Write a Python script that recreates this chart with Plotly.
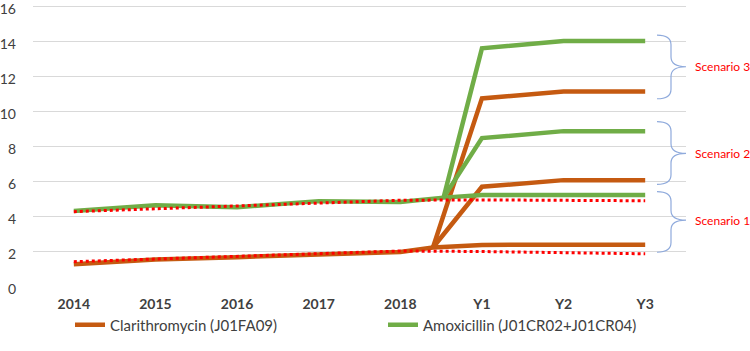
import plotly.graph_objects as go

# ---------------- data ----------------
years = ["2014", "2015", "2016", "2017", "2018", "Y1", "Y2", "Y3"]
hist_pos = [0, 1, 2, 3, 4]
proj_pos = [5, 6, 7]

clari_hist = [1.25, 1.52, 1.65, 1.80, 1.95]
clari_branch_pos = 4.4
clari_branch = 2.2
clari_s1 = [2.35, 2.36, 2.36]
clari_s2 = [5.67, 6.05, 6.05]
clari_s3 = [10.72, 11.12, 11.12]

amox_hist = [4.28, 4.62, 4.50, 4.85, 4.80]
amox_branch_pos = 4.53
amox_branch = 5.05
amox_s1 = [5.20, 5.20, 5.20]
amox_s2 = [8.45, 8.85, 8.85]
amox_s3 = [13.58, 14.00, 14.00]

trend_clari = [1.39, 1.55, 1.70, 1.85, 2.00, 1.97, 1.90, 1.84]
trend_amox = [4.25, 4.42, 4.58, 4.75, 4.90, 4.92, 4.90, 4.87]

y_ticks = [0, 2, 4, 6, 8, 10, 12, 14, 16]

scenario_labels = ["Scenario 3", "Scenario 2", "Scenario 1"]
# brace extents (top, bottom, tip) in y units
brace_spans = [(14.34, 10.70, 12.53), (9.39, 5.81, 7.58), (5.39, 1.93, 3.77)]

ORANGE = "#C55A11"
GREEN = "#70AD47"
RED = "#FF0000"
BLUE = "#8FAADC"
FONT = "Lato"

fig = go.Figure()

def proj(branch_pos, branch_val, vals):
    return [branch_pos] + proj_pos, [branch_val] + vals

# scenario lines (drawn first)
for vals in (clari_s3, clari_s2):
    x, y = proj(clari_branch_pos, clari_branch, vals)
    fig.add_trace(go.Scatter(x=x, y=y, mode="lines", line=dict(color=ORANGE, width=4.5),
                             showlegend=False, hoverinfo="skip"))
for vals in (amox_s3, amox_s2):
    x, y = proj(amox_branch_pos, amox_branch, vals)
    fig.add_trace(go.Scatter(x=x, y=y, mode="lines", line=dict(color=GREEN, width=4.5),
                             showlegend=False, hoverinfo="skip"))

# base lines (history + scenario 1)
fig.add_trace(go.Scatter(
    x=hist_pos + [clari_branch_pos] + proj_pos,
    y=clari_hist + [clari_branch] + clari_s1,
    mode="lines", line=dict(color=ORANGE, width=4.5),
    name="Clarithromycin (J01FA09)"))
fig.add_trace(go.Scatter(
    x=hist_pos + [amox_branch_pos] + proj_pos,
    y=amox_hist + [amox_branch] + amox_s1,
    mode="lines", line=dict(color=GREEN, width=4.5),
    name="Amoxicillin (J01CR02+J01CR04)"))

# trend (dotted)
all_pos = hist_pos + proj_pos
for vals in (trend_clari, trend_amox):
    fig.add_trace(go.Scatter(x=all_pos, y=vals, mode="lines",
                             line=dict(color=RED, width=3, dash="dot"),
                             showlegend=False, hoverinfo="skip"))

# layout geometry
L, R, T, B = 33, 64, 1, 65
W, H = 750, 351
pw = W - L - R
ph = H - T - B
y_top = ph / 17.5  # 17.5 px per unit, 0 at y=286

def px(xpix):
    return (xpix - L) / pw

shapes = []
annotations = []
xl, xm, xr = px(657), px(671), px(686)
r = 0.55
for (yt, yb, ym), lab in zip(brace_spans, scenario_labels):
    path = (f"M {xl},{yt} Q {xm},{yt} {xm},{yt - r} "
            f"L {xm},{ym + r} Q {xm},{ym} {xr},{ym} "
            f"Q {xm},{ym} {xm},{ym - r} "
            f"L {xm},{yb + r} Q {xm},{yb} {xl},{yb}")
    shapes.append(dict(type="path", path=path, xref="paper", yref="y",
                       line=dict(color=BLUE, width=1.2)))
    annotations.append(dict(x=px(693), y=ym, xref="paper", yref="y", text=lab,
                            showarrow=False, xanchor="left", yanchor="middle",
                            font=dict(family=FONT, size=12, color=RED)))

fig.update_layout(
    width=W, height=H,
    margin=dict(l=L, r=R, t=T, b=B, autoexpand=False),
    plot_bgcolor="white", paper_bgcolor="white",
    font=dict(family=FONT, color="#595959"),
    xaxis=dict(range=[-0.5, 7.5], tickvals=list(range(len(years))), ticktext=years,
               showgrid=False, zeroline=False, showline=False, ticks="",
               tickfont=dict(family=FONT, size=14, color="#404040", weight="bold"),
               ticklabelstandoff=8,
               automargin=False, fixedrange=True),
    yaxis=dict(range=[0, y_top], tickvals=y_ticks, showgrid=True,
               gridcolor="#D9D9D9", gridwidth=1,
               zeroline=False, showline=False, ticks="",
               tickfont=dict(family=FONT, size=14, color="#404040"),
               ticklabelstandoff=16, ticklabeloverflow="allow",
               ticklabelshift=3,
               automargin=False),
    legend=dict(orientation="h", x=px(70), xanchor="left", y=-(325 - 286) / ph,
                yanchor="middle",
                font=dict(family=FONT, size=15, color="#404040"),
                entrywidth=268, entrywidthmode="pixels", traceorder="normal"),
    shapes=shapes, annotations=annotations,
    hovermode=False,
)

fig.write_html("out.html", config={"displayModeBar": False},
               post_script="document.body.style.margin='0';")
